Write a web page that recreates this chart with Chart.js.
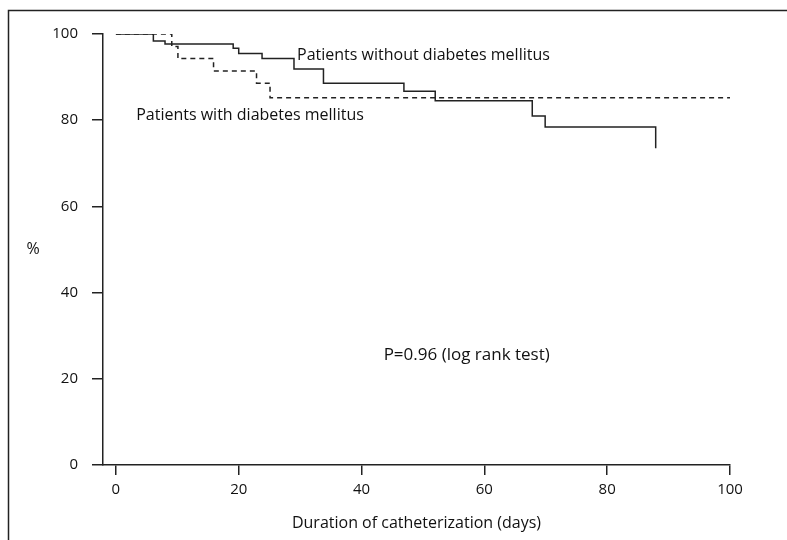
<!DOCTYPE html>
<html>
<head>
<meta charset="utf-8">
<script src="https://cdn.jsdelivr.net/npm/chart.js@4.4.1/dist/chart.umd.min.js"></script>
<style>
    body { margin: 0; background: #fff; }
    canvas { display: block; }
</style>
</head>
<body>
<canvas id="kmChart" width="787" height="540"></canvas>
<script>
// Kaplan-Meier curves (days, % remaining)
const noDiabDays = [0, 6.1, 8.0, 19.1, 20.0, 23.8, 29.0, 33.8, 46.9, 52.0, 67.8, 69.9, 87.9];
const noDiabPct  = [100, 98.4, 97.7, 96.7, 95.5, 94.3, 91.9, 88.6, 86.7, 84.5, 81.0, 78.4, 73.5];
const diabDays = [0, 9.1, 10.1, 15.9, 22.9, 25.1, 100];
const diabPct  = [100, 97.1, 94.3, 91.4, 88.6, 85.2, 85.2];

const xTicks = [0, 20, 40, 60, 80, 100];
const yTicks = [0, 20, 40, 60, 80, 100];

const labelNoDiab = 'Patients without diabetes mellitus';
const labelDiab = 'Patients with diabetes mellitus';
const pText = 'P=0.96 (log rank test)';
const xTitle = 'Duration of catheterization (days)';

const FONT = '"Open Sans", Lato, sans-serif';
const INK = '#111';

function toPoints(xs, ys) {
    return xs.map((x, i) => ({ x: x, y: ys[i] }));
}

// outer frame + free text on the plot
const annotations = {
    id: 'annotations',
    beforeDraw(chart) {
        const ctx = chart.ctx;
        ctx.save();
        ctx.strokeStyle = '#222';
        ctx.lineWidth = 1.5;
        ctx.beginPath();
        ctx.moveTo(8.5, 560);
        ctx.lineTo(8.5, 10.5);
        ctx.lineTo(800, 10.5);
        ctx.stroke();
        ctx.restore();
    },
    afterDraw(chart) {
        const ctx = chart.ctx;
        const x = chart.scales.x, y = chart.scales.y;
        ctx.save();
        ctx.fillStyle = INK;
        ctx.font = '16px ' + FONT;
        ctx.textBaseline = 'middle';
        ctx.textAlign = 'left';
        ctx.fillText(labelNoDiab, x.getPixelForValue(29.5), y.getPixelForValue(95.1));
        ctx.fillText(labelDiab, x.getPixelForValue(3.3), y.getPixelForValue(81.2));
        ctx.textAlign = 'center';
        ctx.fillText('%', chart.chartArea.left - 70, y.getPixelForValue(50));
        ctx.textAlign = 'left';
        ctx.font = '17px ' + FONT;
        ctx.fillText(pText, x.getPixelForValue(43.6), y.getPixelForValue(25.5));
        ctx.restore();
    }
};

new Chart(document.getElementById('kmChart'), {
    type: 'line',
    data: {
        datasets: [{
            label: labelNoDiab,
            data: toPoints(noDiabDays, noDiabPct),
            borderColor: '#222',
            borderWidth: 1.5,
            stepped: 'before',
            pointRadius: 0,
            fill: false
        }, {
            label: labelDiab,
            data: toPoints(diabDays, diabPct),
            borderColor: '#222',
            borderWidth: 1.5,
            borderDash: [5, 4],
            stepped: 'before',
            pointRadius: 0,
            fill: false
        }]
    },
    options: {
        responsive: false,
        animation: false,
        devicePixelRatio: 1,
        layout: { padding: { top: 34, right: 57, left: 0, bottom: 0 } },
        plugins: { legend: { display: false }, tooltip: { enabled: false } },
        scales: {
            x: {
                type: 'linear',
                min: -2.1,
                max: 100,
                afterBuildTicks: s => { s.ticks = xTicks.map(v => ({ value: v })); },
                afterFit: s => { s.height = 75; },
                grid: { drawOnChartArea: false, drawTicks: true, tickLength: 10, color: '#222', lineWidth: 1.5 },
                border: { display: true, color: '#222', width: 1.5 },
                ticks: { color: INK, font: { family: FONT, size: 15 }, padding: 6, maxRotation: 0 },
                title: { display: true, text: xTitle, color: INK, font: { family: FONT, size: 16 }, padding: { top: 0, bottom: 7 } }
            },
            y: {
                min: 0,
                max: 100,
                afterBuildTicks: s => { s.ticks = yTicks.map(v => ({ value: v })); },
                afterFit: s => { s.width = 103; },
                grid: { drawOnChartArea: false, drawTicks: true, tickLength: 11, color: '#222', lineWidth: 1.5 },
                border: { display: true, color: '#222', width: 1.5 },
                ticks: { color: INK, font: { family: FONT, size: 15 }, padding: 14 }
            }
        }
    },
    plugins: [annotations]
});
</script>
</body>
</html>
